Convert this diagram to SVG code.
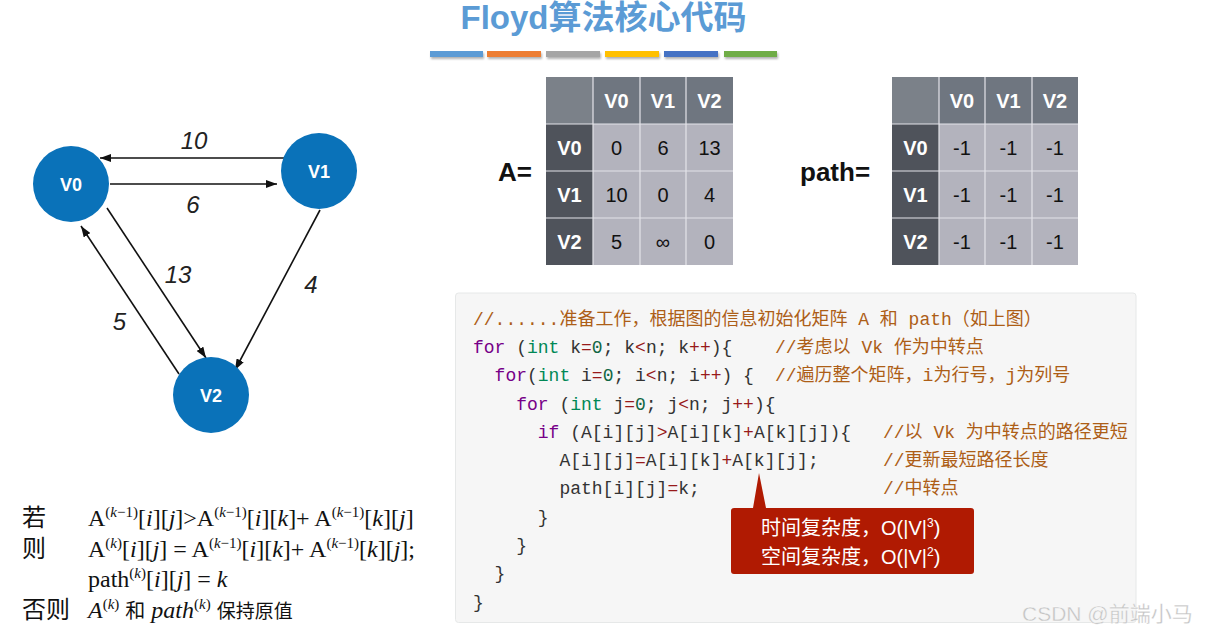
<svg xmlns="http://www.w3.org/2000/svg" width="1207" height="635" viewBox="0 0 1207 635">
<style>
.sans{font-family:"Liberation Sans","Noto Sans CJK SC",sans-serif}
.node{fill:#0a72b9}
.nl{font-family:"Liberation Sans",sans-serif;font-size:18px;font-weight:bold;fill:#fff;text-anchor:middle}
.el{font-family:"Liberation Sans",sans-serif;font-size:24px;font-style:italic;fill:#222;text-anchor:middle}
.edge{stroke:#111;stroke-width:1.6;fill:none;marker-end:url(#ah)}
.tl{fill:#7b8189}.th{fill:#6f7680}.tc{fill:#4f535b}.tb{fill:#b3b3bd}
.hv{font-family:"Liberation Sans",sans-serif;font-size:20px;font-weight:bold;fill:#fff;text-anchor:middle}
.bv{font-family:"Liberation Sans",sans-serif;font-size:20px;fill:#111;text-anchor:middle}
.grid{stroke:#e4e4ea;stroke-width:1.2}
.code{font-family:"Liberation Mono","Noto Sans CJK SC",monospace;font-size:18px;fill:#333}
.cm{fill:#ad5e17}.kw{fill:#770088}.ty{fill:#008855}.nu{fill:#116644}.op{fill:#981a1a}
.f{font-family:"Liberation Serif","Noto Sans CJK SC",serif;font-size:24px;fill:#111}
.i{font-style:italic}
.sp{font-size:15px}
</style>
<defs>
<marker id="ah" markerUnits="userSpaceOnUse" markerWidth="11" markerHeight="8" refX="11" refY="4" orient="auto"><path d="M0,0 L11,4 L0,8 z" fill="#111"/></marker>
<filter id="sh" x="-10%" y="-50%" width="120%" height="250%"><feDropShadow dx="1" dy="2" stdDeviation="1" flood-color="#000" flood-opacity="0.3"/></filter>
</defs>

<g id="title">
<text x="603.5" y="29" class="sans" font-size="33" font-weight="bold" fill="#5b9bd5" text-anchor="middle">Floyd算法核心代码</text>
<g filter="url(#sh)">
<rect x="430" y="51" width="53" height="6" fill="#5b9bd5"/>
<rect x="487" y="51" width="54" height="6" fill="#ed7d31"/>
<rect x="546" y="51" width="54" height="6" fill="#a5a5a5"/>
<rect x="605" y="51" width="54" height="6" fill="#ffc000"/>
<rect x="664" y="51" width="54" height="6" fill="#4472c4"/>
<rect x="724" y="51" width="53" height="6" fill="#70ad47"/>
</g>
</g>

<g id="connectors">
<line class="edge" x1="287" y1="158" x2="100" y2="158"/>
<line class="edge" x1="110" y1="184" x2="277" y2="184"/>
<line class="edge" x1="107" y1="208" x2="206" y2="358"/>
<line class="edge" x1="179" y1="374" x2="81" y2="226"/>
<line class="edge" x1="320" y1="210" x2="235" y2="370"/>
<text class="el" x="194" y="149">10</text>
<text class="el" x="193" y="213">6</text>
<text class="el" x="178" y="283">13</text>
<text class="el" x="119.5" y="330">5</text>
<text class="el" x="311" y="293">4</text>
</g>

<g id="V0"><circle class="node" cx="71" cy="184" r="38"/><text class="nl" x="71" y="191">V0</text></g>
<g id="V1"><circle class="node" cx="319" cy="171" r="38"/><text class="nl" x="319" y="178">V1</text></g>
<g id="V2"><circle class="node" cx="211" cy="395" r="38"/><text class="nl" x="211" y="402">V2</text></g>

<g id="matrixA">
<text x="498" y="181" class="sans" font-size="26" font-weight="bold" fill="#111">A=</text>
<rect class="tl" x="546" y="77" width="47" height="47"/>
<rect class="th" x="593" y="77" width="140" height="47"/>
<rect class="tc" x="546" y="124" width="47" height="141"/>
<rect class="tb" x="593" y="124" width="140" height="141"/>
<g class="grid">
<line x1="593" y1="77" x2="593" y2="265"/><line x1="640" y1="77" x2="640" y2="265"/><line x1="686" y1="77" x2="686" y2="265"/>
<line x1="546" y1="124" x2="733" y2="124"/><line x1="546" y1="171" x2="733" y2="171"/><line x1="546" y1="218" x2="733" y2="218"/>
</g>
<text class="hv" x="616.5" y="108">V0</text><text class="hv" x="663" y="108">V1</text><text class="hv" x="709.5" y="108">V2</text>
<text class="hv" x="569.5" y="155">V0</text><text class="hv" x="569.5" y="202">V1</text><text class="hv" x="569.5" y="249">V2</text>
<text class="bv" x="616.5" y="155">0</text><text class="bv" x="663" y="155">6</text><text class="bv" x="709.5" y="155">13</text>
<text class="bv" x="616.5" y="202">10</text><text class="bv" x="663" y="202">0</text><text class="bv" x="709.5" y="202">4</text>
<text class="bv" x="616.5" y="249">5</text><text class="bv" x="663" y="249">∞</text><text class="bv" x="709.5" y="249">0</text>
</g>

<g id="matrixPath">
<text x="800" y="181" class="sans" font-size="26" font-weight="bold" fill="#111">path=</text>
<rect class="tl" x="892" y="77" width="47" height="47"/>
<rect class="th" x="939" y="77" width="139" height="47"/>
<rect class="tc" x="892" y="124" width="47" height="141"/>
<rect class="tb" x="939" y="124" width="139" height="141"/>
<g class="grid">
<line x1="939" y1="77" x2="939" y2="265"/><line x1="985" y1="77" x2="985" y2="265"/><line x1="1032" y1="77" x2="1032" y2="265"/>
<line x1="892" y1="124" x2="1078" y2="124"/><line x1="892" y1="171" x2="1078" y2="171"/><line x1="892" y1="218" x2="1078" y2="218"/>
</g>
<text class="hv" x="962" y="108">V0</text><text class="hv" x="1008.5" y="108">V1</text><text class="hv" x="1055" y="108">V2</text>
<text class="hv" x="915.5" y="155">V0</text><text class="hv" x="915.5" y="202">V1</text><text class="hv" x="915.5" y="249">V2</text>
<text class="bv" x="962" y="155">-1</text><text class="bv" x="1008.5" y="155">-1</text><text class="bv" x="1055" y="155">-1</text>
<text class="bv" x="962" y="202">-1</text><text class="bv" x="1008.5" y="202">-1</text><text class="bv" x="1055" y="202">-1</text>
<text class="bv" x="962" y="249">-1</text><text class="bv" x="1008.5" y="249">-1</text><text class="bv" x="1055" y="249">-1</text>
</g>

<g id="code">
<rect x="455.5" y="293" width="680.5" height="329.5" rx="3" fill="#f6f6f6" stroke="#e6e8e8" stroke-width="1"/>
<text class="code cm" x="473" y="325">//......准备工作，根据图的信息初始化矩阵 A 和 path（如上图）</text>
<text class="code" x="473" y="353" xml:space="preserve"><tspan class="kw">for</tspan> (<tspan class="ty">int</tspan> k<tspan class="op">=</tspan><tspan class="nu">0</tspan>; k<tspan class="op">&lt;</tspan>n; k<tspan class="op">++</tspan>){</text>
<text class="code cm" x="775" y="353">//考虑以 Vk 作为中转点</text>
<text class="code" x="494.6" y="381" xml:space="preserve"><tspan class="kw">for</tspan>(<tspan class="ty">int</tspan> i<tspan class="op">=</tspan><tspan class="nu">0</tspan>; i<tspan class="op">&lt;</tspan>n; i<tspan class="op">++</tspan>) {</text>
<text class="code cm" x="775" y="381">//遍历整个矩阵，i为行号，j为列号</text>
<text class="code" x="516.2" y="410" xml:space="preserve"><tspan class="kw">for</tspan> (<tspan class="ty">int</tspan> j<tspan class="op">=</tspan><tspan class="nu">0</tspan>; j<tspan class="op">&lt;</tspan>n; j<tspan class="op">++</tspan>){</text>
<text class="code" x="537.8" y="438" xml:space="preserve"><tspan class="kw">if</tspan> (A[i][j]<tspan class="op">&gt;</tspan>A[i][k]<tspan class="op">+</tspan>A[k][j]){</text>
<text class="code cm" x="883" y="438">//以 Vk 为中转点的路径更短</text>
<text class="code" x="559.4" y="466" xml:space="preserve">A[i][j]<tspan class="op">=</tspan>A[i][k]<tspan class="op">+</tspan>A[k][j];</text>
<text class="code cm" x="883" y="466">//更新最短路径长度</text>
<text class="code" x="559.4" y="494" xml:space="preserve">path[i][j]<tspan class="op">=</tspan>k;</text>
<text class="code cm" x="883" y="494">//中转点</text>
<text class="code" x="537.8" y="523">}</text>
<text class="code" x="516.2" y="551">}</text>
<text class="code" x="494.6" y="579">}</text>
<text class="code" x="473" y="608">}</text>
</g>

<g id="callout">
<path d="M759,473 L766,508 L971,508 Q974,508 974,511 L974,571 Q974,574 971,574 L734,574 Q731,574 731,571 L731,511 Q731,508 734,508 L753,508 Z" fill="#b01a02"/>
<text class="sans" font-size="20" fill="#fff" x="761" y="535">时间复杂度，O(|V|<tspan font-size="12" baseline-shift="8">3</tspan>)</text>
<text class="sans" font-size="20" fill="#fff" x="761" y="564">空间复杂度，O(|V|<tspan font-size="12" baseline-shift="8">2</tspan>)</text>
</g>

<g id="formula">
<text class="f" x="22" y="526">若</text>
<text class="f" x="88" y="526">A<tspan class="sp" baseline-shift="9">(<tspan class="i">k</tspan>−1)</tspan>[<tspan class="i">i</tspan>][<tspan class="i">j</tspan>]&gt;A<tspan class="sp" baseline-shift="9">(<tspan class="i">k</tspan>−1)</tspan>[<tspan class="i">i</tspan>][<tspan class="i">k</tspan>]+ A<tspan class="sp" baseline-shift="9">(<tspan class="i">k</tspan>−1)</tspan>[<tspan class="i">k</tspan>][<tspan class="i">j</tspan>]</text>
<text class="f" x="22" y="557">则</text>
<text class="f" x="88" y="557">A<tspan class="sp" baseline-shift="9">(<tspan class="i">k</tspan>)</tspan>[<tspan class="i">i</tspan>][<tspan class="i">j</tspan>] = A<tspan class="sp" baseline-shift="9">(<tspan class="i">k</tspan>−1)</tspan>[<tspan class="i">i</tspan>][<tspan class="i">k</tspan>]+ A<tspan class="sp" baseline-shift="9">(<tspan class="i">k</tspan>−1)</tspan>[<tspan class="i">k</tspan>][<tspan class="i">j</tspan>];</text>
<text class="f" x="88" y="587">path<tspan class="sp" baseline-shift="9">(<tspan class="i">k</tspan>)</tspan>[<tspan class="i">i</tspan>][<tspan class="i">j</tspan>] = <tspan class="i">k</tspan></text>
<text class="f" x="22" y="618">否则</text>
<text class="f" x="88" y="618"><tspan class="i">A</tspan><tspan class="sp" baseline-shift="9">(<tspan class="i">k</tspan>)</tspan> <tspan font-size="20">和</tspan> <tspan class="i">path</tspan><tspan class="sp" baseline-shift="9">(<tspan class="i">k</tspan>)</tspan> <tspan font-size="19">保持原值</tspan></text>
</g>

<text id="watermark" x="1022" y="621" class="sans" font-size="21" fill="#c4c4c4" stroke="#fff" stroke-width="0.3">CSDN @前端小马</text>
</svg>
